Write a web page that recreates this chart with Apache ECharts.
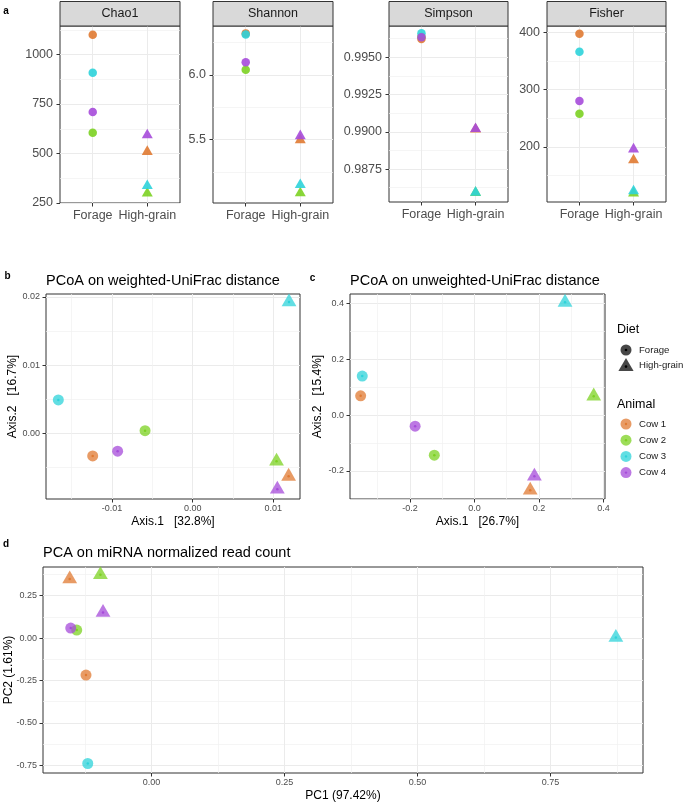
<!DOCTYPE html>
<html><head><meta charset="utf-8">
<script src="https://cdn.jsdelivr.net/npm/echarts@6/dist/echarts.min.js"></script>
<style>html,body{margin:0;padding:0;background:#fff}#c{width:685px;height:804px}</style>
</head><body><div id="c"></div>
<script>
const FONT = 'Liberation Sans, Arial, Helvetica, sans-serif';

// ---------- data ----------
const diets = ['Forage', 'High-grain'];
const animals = ['Cow 1', 'Cow 2', 'Cow 3', 'Cow 4'];
const animalColors = ['#E07A32', '#7CD122', '#2DD3DA', '#A64BDA'];
const metrics = ['Chao1', 'Shannon', 'Simpson', 'Fisher'];

// alpha diversity, per animal: [Forage, High-grain]
const chao1   = [[1100, 509], [605, 299], [908, 337], [710, 593]];
const shannon = [[6.322, 5.498], [6.041, 5.087], [6.314, 5.151], [6.098, 5.529]];
const simpson = [[0.99623, 0.99016], [0.99638, 0.98591], [0.99661, 0.98593], [0.99634, 0.99020]];
const fisher  = [[397.6, 177], [258, 119], [366, 123], [280, 196]];
const chao1Ticks   = [250, 500, 750, 1000];
const shannonTicks = [5.5, 6.0];
const simpsonTicks = [0.9875, 0.99, 0.9925, 0.995];
const fisherTicks  = [200, 300, 400];

// PCoA weighted UniFrac, per animal: [Forage, High-grain]
const wuAxis1 = [[-0.01239, 0.0119], [-0.0059, 0.0104], [-0.01665, 0.01195], [-0.0093, 0.0105]];
const wuAxis2 = [[-0.0033, -0.0063], [0.0004, -0.0041], [0.0049, 0.01926], [-0.0026, -0.0082]];
const wuTicksX = [-0.01, 0, 0.01];
const wuTicksY = [0, 0.01, 0.02];

// PCoA unweighted UniFrac
const uuAxis1 = [[-0.353, 0.173], [-0.1245, 0.37], [-0.348, 0.281], [-0.184, 0.186]];
const uuAxis2 = [[0.069, -0.269], [-0.1437, 0.068], [0.140, 0.404], [-0.0395, -0.219]];
const uuTicksX = [-0.2, 0, 0.2, 0.4];
const uuTicksY = [-0.2, 0, 0.2, 0.4];

// PCA miRNA
const pcaPC1 = [[-0.123, -0.1536], [-0.1404, -0.0959], [-0.1197, 0.8727], [-0.1517, -0.091]];
const pcaPC2 = [[-0.218, 0.348], [0.047, 0.373], [-0.739, 0.0035], [0.059, 0.151]];
const pcaTicksX = [0, 0.25, 0.5, 0.75];
const pcaTicksY = [-0.75, -0.5, -0.25, 0, 0.25];

// ---------- builders ----------
const grids = [], xAxes = [], yAxes = [], series = [], graphics = [];

function minorOf(ticks, lo, hi) {
  const step = ticks[1] - ticks[0];
  const out = [ticks[0] - step / 2];
  ticks.forEach(t => out.push(t + step / 2));
  return out.filter(v => v > lo && v < hi);
}

function addAxis(kind, gi, s) {
  const arr = kind === 'x' ? xAxes : yAxes;
  const pos = kind === 'x' ? 'bottom' : 'left';
  const base = { type: 'value', gridIndex: gi, min: s.min, max: s.max, position: pos };
  if (s.minor) {
    arr.push(Object.assign({}, base, {
      axisLine: { show: false, onZero: false },
      axisTick: { show: false, customValues: s.minor },
      axisLabel: { show: false, customValues: s.minor },
      splitLine: { show: true, lineStyle: { color: '#F0F0F0', width: 0.7 } }
    }));
  }
  arr.push(Object.assign({}, base, {
    axisLine: { show: false, onZero: false },
    axisTick: { show: true, length: 3.5, customValues: s.ticks, lineStyle: { color: '#333', width: 1 } },
    axisLabel: { customValues: s.ticks, formatter: s.fmt, color: '#4D4D4D', fontSize: s.fs, fontFamily: FONT, margin: s.margin },
    splitLine: { show: true, lineStyle: { color: '#EBEBEB', width: 1 } },
    name: s.name || '', nameLocation: 'middle', nameGap: s.nameGap || 0, nameMoveOverlap: false,
    nameTextStyle: { color: '#000', fontSize: 12, fontFamily: FONT }
  }));
  return arr.length - 1;
}

function pt(x, y, k, s) {
  return k === 0
    ? { value: [x, y], symbol: 'circle', symbolSize: s.c }
    : { value: [x, y], symbol: 'triangle', symbolSize: [s.tw, s.th], symbolOffset: [0, -s.th / 6] };
}

function addGrid(rect) {
  grids.push(Object.assign({ show: true, borderColor: '#333', borderWidth: 1, backgroundColor: 'transparent',
    containLabel: false, outerBoundsMode: 'none' }, rect));
  return grids.length - 1;
}

// ---------- panel a ----------
const layoutA = [
  { left: 60, top: 26, width: 120, height: 177 },
  { left: 213, top: 26, width: 120, height: 177 },
  { left: 389, top: 26, width: 119, height: 176 },
  { left: 547, top: 26, width: 119, height: 176 }
];
const alphaVals = [chao1, shannon, simpson, fisher];
const alphaTicks = [chao1Ticks, shannonTicks, simpsonTicks, fisherTicks];
const alphaLim = [[250, 1144], [5.011, 6.379], [0.98529, 0.99710], [104, 411]];
const alphaDec = [0, 1, 4, 0];
const smallSym = { c: 8.5, tw: 11, th: 9.6 };
const bigSym = { c: 11, tw: 14.8, th: 12.8 };

alphaVals.forEach((vals, f) => {
  const L = layoutA[f];
  const gi = addGrid(L);
  const xi = addAxis('x', gi, { min: 0.4, max: 2.6, ticks: [1, 2], fmt: v => diets[Math.round(v) - 1], fs: 12.5, margin: 6.5 });
  const yi = addAxis('y', gi, {
    min: alphaLim[f][0], max: alphaLim[f][1], ticks: alphaTicks[f],
    minor: minorOf(alphaTicks[f], alphaLim[f][0], alphaLim[f][1]),
    fmt: v => v.toFixed(alphaDec[f]), fs: 12.5, margin: 7
  });
  animals.forEach((an, a) => {
    series.push({
      type: 'scatter', name: an, xAxisIndex: xi, yAxisIndex: yi, silent: true,
      itemStyle: { color: animalColors[a], opacity: 0.9 },
      data: diets.map((d, k) => pt(k + 1, vals[a][k], k, smallSym))
    });
  });
  // strip
  graphics.push({ type: 'rect', shape: { x: L.left, y: 1.5, width: L.width, height: 24.5 },
    style: { fill: '#D9D9D9', stroke: '#333', lineWidth: 1 }, z: 10 });
  graphics.push({ type: 'text', x: L.left + L.width / 2, y: 14, z: 11,
    style: { text: metrics[f], fill: '#1A1A1A', font: '12.5px ' + FONT, textAlign: 'center', textVerticalAlign: 'middle' } });
});

// ---------- panels b, c, d ----------
const ordPanels = [
  { X: wuAxis1, Y: wuAxis2, rect: { left: 46, top: 294, width: 254, height: 205 },
    xl: [-0.01818, 0.01331], yl: [-0.00962, 0.02044], tx: wuTicksX, ty: wuTicksY, dx: 2, dy: 2,
    xname: 'Axis.1   [32.8%]', yname: 'Axis.2   [16.7%]', xgap: 17, ygap: 27 },
  { X: uuAxis1, Y: uuAxis2, rect: { left: 350, top: 294, width: 255, height: 205 },
    xl: [-0.386, 0.405], yl: [-0.3006, 0.434], tx: uuTicksX, ty: uuTicksY, dx: 1, dy: 1,
    xname: 'Axis.1   [26.7%]', yname: 'Axis.2   [15.4%]', xgap: 17, ygap: 26 },
  { X: pcaPC1, Y: pcaPC2, rect: { left: 43, top: 567, width: 600, height: 206 },
    xl: [-0.2038, 0.9237], yl: [-0.795, 0.419], tx: pcaTicksX, ty: pcaTicksY, dx: 2, dy: 2,
    xname: 'PC1 (97.42%)', yname: 'PC2 (1.61%)', xgap: 17, ygap: 28 }
];

ordPanels.forEach(P => {
  const gi = addGrid(P.rect);
  const xi = addAxis('x', gi, { min: P.xl[0], max: P.xl[1], ticks: P.tx, minor: minorOf(P.tx, P.xl[0], P.xl[1]),
    fmt: v => v.toFixed(P.dx), fs: 9, margin: 5, name: P.xname, nameGap: P.xgap });
  const yi = addAxis('y', gi, { min: P.yl[0], max: P.yl[1], ticks: P.ty, minor: minorOf(P.ty, P.yl[0], P.yl[1]),
    fmt: v => v.toFixed(P.dy), fs: 9, margin: 6, name: P.yname, nameGap: P.ygap });
  animals.forEach((an, a) => {
    series.push({
      type: 'scatter', name: an, xAxisIndex: xi, yAxisIndex: yi, silent: true,
      itemStyle: { color: animalColors[a], opacity: 0.75 },
      data: diets.map((d, k) => pt(P.X[a][k], P.Y[a][k], k, bigSym))
    });
    series.push({
      type: 'scatter', name: an + ' centre', xAxisIndex: xi, yAxisIndex: yi, silent: true,
      itemStyle: { color: animalColors[a], opacity: 1 }, symbol: 'circle', symbolSize: 2.5,
      data: diets.map((d, k) => [P.X[a][k], P.Y[a][k]])
    });
  });
});

// ---------- panel letters ----------
[['a', 6, 11], ['b', 7.5, 276], ['c', 312.5, 278], ['d', 6, 544]].forEach(([t, x, y]) => {
  graphics.push({ type: 'text', x: x, y: y, style: { text: t, fill: '#000', font: 'bold 10px ' + FONT, textAlign: 'center', textVerticalAlign: 'middle' } });
});

// ---------- legend ----------
const lgX = 626, lgTextX = 639;
graphics.push({ type: 'text', x: 617, y: 330, style: { text: 'Diet', fill: '#000', font: '12.5px ' + FONT, textVerticalAlign: 'middle' } });
graphics.push({ type: 'circle', shape: { cx: lgX, cy: 350, r: 5.5 }, style: { fill: '#333', opacity: 0.9 } });
graphics.push({ type: 'circle', shape: { cx: lgX, cy: 350, r: 1.3 }, style: { fill: '#000' } });
graphics.push({ type: 'polygon', shape: { points: [[lgX, 358], [lgX - 7.6, 371], [lgX + 7.6, 371]] }, style: { fill: '#333', opacity: 0.9 } });
graphics.push({ type: 'circle', shape: { cx: lgX, cy: 366.6, r: 1.3 }, style: { fill: '#000' } });
diets.forEach((d, k) => {
  graphics.push({ type: 'text', x: lgTextX, y: k === 0 ? 350 : 365.5, style: { text: d, fill: '#1A1A1A', font: '9.6px ' + FONT, textVerticalAlign: 'middle' } });
});
graphics.push({ type: 'text', x: 617, y: 405, style: { text: 'Animal', fill: '#000', font: '12.5px ' + FONT, textVerticalAlign: 'middle' } });
const lgAnimalY = [424, 440.2, 456.4, 472.6];
animals.forEach((an, a) => {
  graphics.push({ type: 'circle', shape: { cx: lgX, cy: lgAnimalY[a], r: 5.5 }, style: { fill: animalColors[a], opacity: 0.75 } });
  graphics.push({ type: 'circle', shape: { cx: lgX, cy: lgAnimalY[a], r: 1.2 }, style: { fill: animalColors[a] } });
  graphics.push({ type: 'text', x: lgTextX, y: lgAnimalY[a], style: { text: an, fill: '#1A1A1A', font: '9.6px ' + FONT, textVerticalAlign: 'middle' } });
});

// ---------- titles ----------
const titleStyle = { fontSize: 14.5, fontWeight: 'normal', color: '#000', fontFamily: FONT };
const titles = [
  { text: 'PCoA on weighted-UniFrac distance', left: 46, top: 273.5, padding: 0, textStyle: titleStyle },
  { text: 'PCoA on unweighted-UniFrac distance', left: 350, top: 273.5, padding: 0, textStyle: titleStyle },
  { text: 'PCA on miRNA normalized read count', left: 43, top: 545.5, padding: 0, textStyle: titleStyle }
];

const chart = echarts.init(document.getElementById('c'), null, { renderer: 'canvas' });
chart.setOption({
  animation: false,
  backgroundColor: '#fff',
  title: titles,
  grid: grids,
  xAxis: xAxes,
  yAxis: yAxes,
  series: series,
  graphic: graphics
});
</script></body></html>
